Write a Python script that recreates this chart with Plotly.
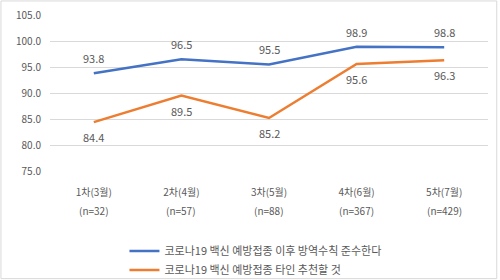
import plotly.graph_objects as go

categories = ["1차(3월)", "2차(4월)", "3차(5월)", "4차(6월)", "5차(7월)"]
sample_sizes = ["(n=32)", "(n=57)", "(n=88)", "(n=367)", "(n=429)"]
series_names = ["코로나19 백신 예방접종 이후 방역수칙 준수한다", "코로나19 백신 예방접종 타인 추천할 것"]
blue_vals = [93.8, 96.5, 95.5, 98.9, 98.8]
orange_vals = [84.4, 89.5, 85.2, 95.6, 96.3]
y_ticks = [75, 80, 85, 90, 95, 100, 105]

FONT = "Noto Sans CJK KR"
GRAY = "#595959"

fig = go.Figure()
fig.add_trace(go.Scatter(x=categories, y=blue_vals, mode="lines", name=series_names[0],
                         line=dict(color="#4472C4", width=2.5)))
fig.add_trace(go.Scatter(x=categories, y=orange_vals, mode="lines", name=series_names[1],
                         line=dict(color="#ED7D31", width=2.5)))

for c, v in zip(categories, blue_vals):
    fig.add_annotation(x=c, y=v, text=f"{v:.1f}", showarrow=False, yshift=15,
                       font=dict(family=FONT, size=11, color=GRAY))
for c, v in zip(categories, orange_vals):
    fig.add_annotation(x=c, y=v, text=f"{v:.1f}", showarrow=False, yshift=-15,
                       font=dict(family=FONT, size=11, color=GRAY))
for c, n in zip(categories, sample_sizes):
    fig.add_annotation(x=c, y=0, xref="x", yref="paper", text=n, showarrow=False,
                       yanchor="middle", yshift=-39,
                       font=dict(family=FONT, size=10, color=GRAY))

fig.add_shape(type="rect", xref="paper", yref="paper", x0=-0.112, x1=1.02, y0=-0.69, y1=1.09,
              line=dict(color="#D9D9D9", width=1))

fig.update_layout(
    width=500, height=280,
    margin=dict(l=50, r=12, t=15, b=109, autoexpand=False),
    paper_bgcolor="white", plot_bgcolor="white",
    font=dict(family=FONT, size=10, color=GRAY),
    xaxis=dict(showgrid=False, showline=False, ticks="", range=[-0.5, 4.5], automargin=False,
               tickfont=dict(size=10, color=GRAY), ticklabelstandoff=14),
    yaxis=dict(range=[75, 105], tickvals=y_ticks, tickformat=".1f", gridcolor="#D9D9D9",
               zeroline=False, showline=False, automargin=False,
               tickfont=dict(size=10, color=GRAY), ticklabelstandoff=8),
    legend=dict(x=0.17, y=-0.42, xanchor="left", yanchor="top", font=dict(size=11, color=GRAY),
                tracegroupgap=0, itemwidth=30, bgcolor="rgba(0,0,0,0)"),
    showlegend=True,
)

fig.write_html("out.html")
